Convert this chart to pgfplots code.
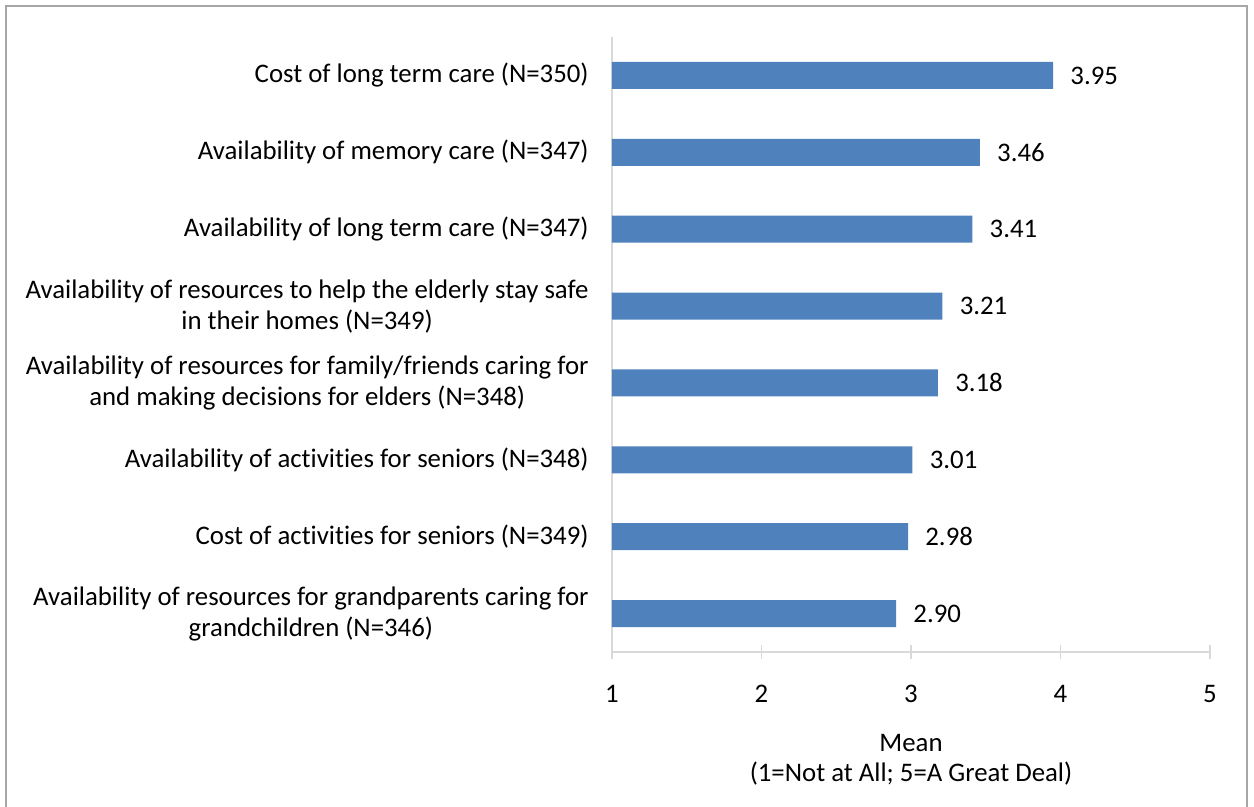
\documentclass[border=0pt]{standalone}
\usepackage{pgfplots}
\pgfplotsset{compat=1.18}
\usepackage{fontspec}
\setmainfont{Carlito}[Ligatures=NoCommon]
\definecolor{barblue}{HTML}{4F81BD}
\definecolor{axgray}{HTML}{D9D9D9}
\begin{document}
\begin{tikzpicture}
\useasboundingbox (0,0) rectangle (627pt,403.5pt);
\draw[gray!70, line width=0.6pt] (3pt,0) -- (3pt,400.5pt) -- (623.5pt,400.5pt) -- (623.5pt,0);
\begin{axis}[
  at={(306pt,77.5pt)}, anchor=south west,
  scale only axis, width=299pt, height=307.5pt,
  xbar, bar width=13.5pt,
  xmin=1, xmax=5, ymin=-0.5, ymax=7.5,
  xtick={1,2,3,4,5},
  ytick={0,...,7},
  yticklabels={
    {Availability of resources for grandparents caring for\\grandchildren (N=346)},
    {Cost of activities for seniors (N=349)},
    {Availability of activities for seniors (N=348)},
    {Availability of resources for family/friends caring for\\and making decisions for elders (N=348)},
    {Availability of resources to help the elderly stay safe\\in their homes (N=349)},
    {Availability of long term care (N=347)},
    {Availability of memory care (N=347)},
    {Cost of long term care (N=350)}},
  axis x line=bottom, axis y line=left,
  axis line style={draw=axgray, line width=0.9pt, -},
  ytick style={draw=none},
  xtick style={draw=axgray, line width=0.9pt},
  xtick align=center, major tick length=7pt,
  tick label style={font=\fontsize{13.4}{15.5}\selectfont, text=black},
  yticklabel style={align=center, inner sep=0pt, xshift=-8pt},
  xticklabel style={inner sep=0pt, yshift=-13pt},
  /pgf/number format/assume math mode=true,
  xlabel={Mean\\(1=Not at All; 5=A Great Deal)},
  xlabel style={font=\fontsize{13.4}{15}\selectfont, align=center, at={(axis description cs:0.5,0)}, anchor=north, inner sep=0pt, yshift=-41pt},
  point meta=x,
  nodes near coords,
  nodes near coords style={font=\fontsize{13.4}{14}\selectfont, anchor=west, inner sep=0pt, xshift=8.5pt,
    /pgf/number format/.cd, fixed, fixed zerofill, precision=2, assume math mode=true},
  clip=false,
]
\addplot[fill=barblue, draw=none] coordinates {
  (2.90,0) (2.98,1) (3.01,2) (3.18,3) (3.21,4) (3.41,5) (3.46,6) (3.95,7)
};
\end{axis}
\end{tikzpicture}
\end{document}
